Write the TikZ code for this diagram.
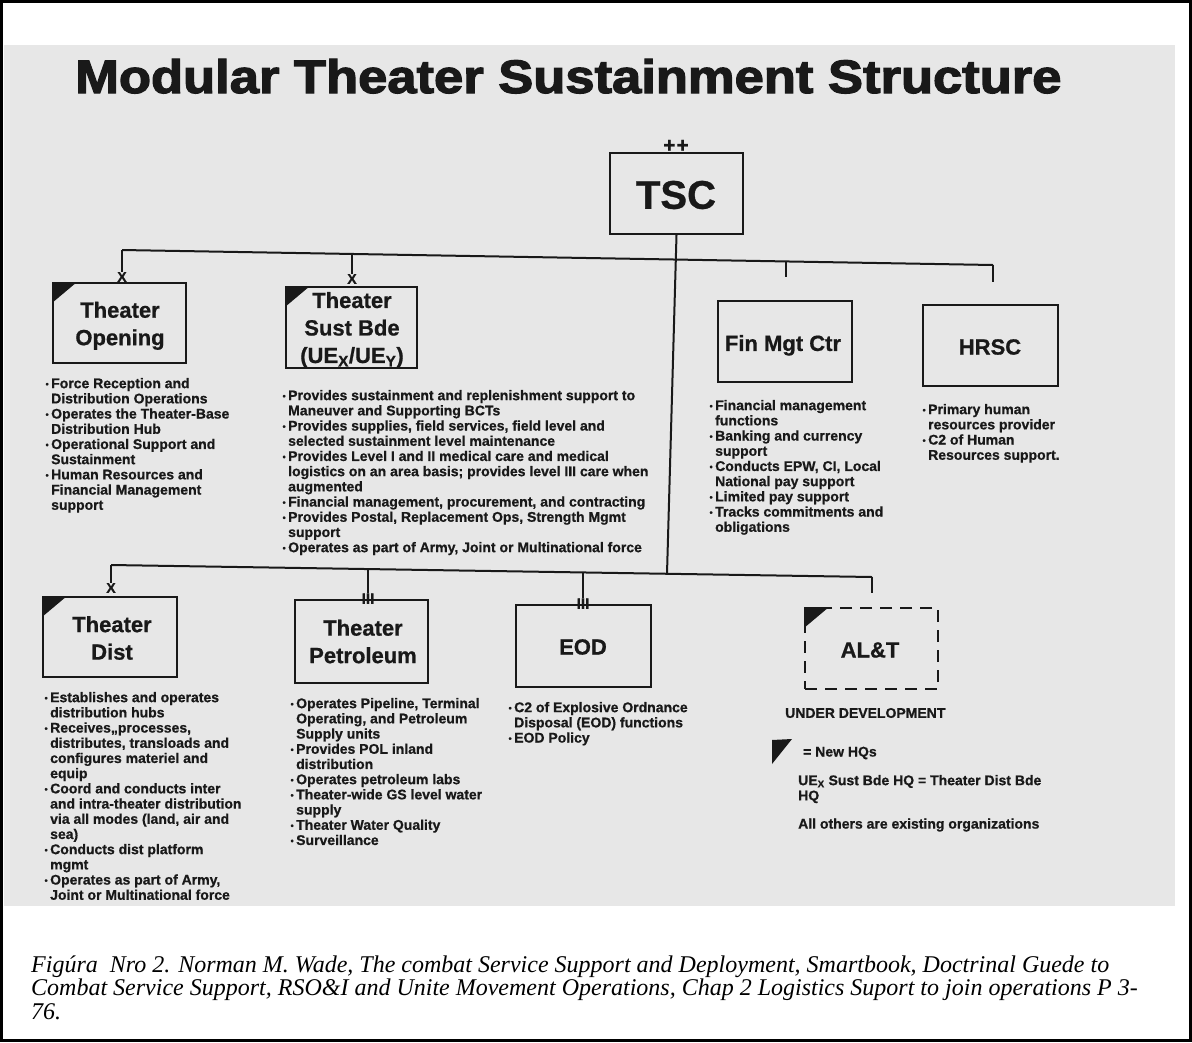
\documentclass[tikz,border=0pt]{standalone}
\usepackage{fontspec}
\setmainfont[BoldFeatures={FakeBold=0.8}]{Liberation Sans}
\newfontfamily\titlefont[BoldFeatures={FakeBold=2.5}]{Liberation Sans}
\newfontfamily\capfont{Liberation Serif}
\usetikzlibrary{calc}

\definecolor{scan}{RGB}{231,231,231}
\definecolor{ink}{RGB}{25,25,25}

% small bullet hanging left of the item text
\newcommand\bul{\llap{\raisebox{1pt}{\fontsize{9}{9}\selectfont •}\hspace{2.5pt}}}

\tikzset{
  unitbox/.style={draw=ink, line width=2pt, inner sep=0pt, minimum width=133pt, minimum height=81pt},
  boxlabel/.style={font=\fontsize{22}{27.5}\selectfont\bfseries, text=ink, align=center, inner sep=0pt},
  bullets/.style={font=\fontsize{14}{15.2}\selectfont\bfseries, text=ink, align=left, inner sep=0pt, anchor=north west},
  legendtext/.style={font=\fontsize{14}{15.2}\selectfont\bfseries, text=ink, align=left, inner sep=0pt},
  link/.style={draw=ink, line width=2pt},
  echelon/.style={font=\fontsize{14}{14}\selectfont\bfseries, text=ink, inner sep=0pt, anchor=south},
}

\begin{document}
\begin{tikzpicture}[x=1pt, y=-1pt]
\useasboundingbox (0,0) rectangle (1192,1042);
% page frame and scanned sheet
\fill[white] (0,0) rectangle (1192,1042);
\fill[scan] (4,45) rectangle (1175,906);
\draw[line width=2.5pt] (1.5,1.5) rectangle (1190.5,1040.5);

% title
\node[anchor=base west, inner sep=0pt, text=ink] (title) at (75,93)
  {\resizebox{986pt}{34pt}{\titlefont\bfseries Modular Theater Sustainment Structure}};

% ---------- boxes ----------
\node[unitbox] (tsc) at (676.5,193.5) {};
\node[boxlabel, font=\fontsize{40}{40}\selectfont\bfseries] (tsc-l) at (676,195) {TSC};
\node[font=\fontsize{21}{21}\selectfont\bfseries, text=ink, inner sep=0pt] (tsc-e) at (676,146) {+\kern1pt+};

\node[unitbox, minimum height=80pt] (topen) at (119.5,323) {};
\node[boxlabel] (topen-l) at (120,325.8) {Theater\\Opening};

\node[unitbox, minimum width=131pt] (sbde) at (351.5,327.5) {};
\node[boxlabel] (sbde-l) at (352,329.8) {Theater\\Sust Bde\\(UE\textsubscript{X}/UE\textsubscript{Y})};

\node[unitbox, minimum width=134pt] (fin) at (785,341.5) {};
\node[boxlabel] (fin-l) at (783,345.3) {Fin Mgt Ctr};

\node[unitbox, minimum width=135pt] (hrsc) at (990.5,345.5) {};
\node[boxlabel] (hrsc-l) at (990,347) {HRSC};

\node[unitbox, minimum width=134pt, minimum height=80pt] (tdist) at (110,637) {};
\node[boxlabel] (tdist-l) at (112,638) {Theater\\Dist};

\node[unitbox, minimum height=83pt] (tpet) at (361.5,641.5) {};
\node[boxlabel] (tpet-l) at (363,641.5) {Theater\\Petroleum};

\node[unitbox, minimum width=135pt, minimum height=82pt] (eod) at (583.5,646) {};
\node[boxlabel] (eod-l) at (583,647) {EOD};

\node[unitbox, dashed, dash pattern=on 12pt off 8pt, minimum height=81pt] (alt) at (871.5,648.5) {};
\node[boxlabel] (alt-l) at (870,650) {AL\&T};

% new-HQ corner flags
\foreach \b in {topen, sbde, tdist, alt}
  \fill[ink] (\b.north west) -- ++(25,0) -- ++(-25,21) -- cycle;

% echelon marks
\node[echelon] (topen-e) at ($(topen.north)+(2.5,0)$) {X};
\node[echelon] (sbde-e) at ($(sbde.north)+(0.5,-2)$) {X};
\node[echelon] (tdist-e) at ($(tdist.north)+(1,-3)$) {X};
\node[echelon, font=\fontsize{15}{15}\selectfont\bfseries] (tpet-e) at ($(tpet.north)+(6.5,5)$) {III};
\node[echelon, font=\fontsize{15}{15}\selectfont\bfseries] (eod-e) at ($(eod.north)+(-0.5,5)$) {III};

% ---------- connectors ----------
\coordinate (ub-a) at (122,250);
\coordinate (ub-b) at (352,254);
\coordinate (ub-c) at (676,259.5);
\coordinate (ub-d) at (786,261.4);
\coordinate (ub-e) at (993,265);
\coordinate (fin-t) at (786,277);
\coordinate (hrsc-t) at (993,282);

\coordinate (lb-a) at (111,565);
\coordinate (lb-b) at (368,569);
\coordinate (lb-c) at (583,572.4);
\coordinate (lb-d) at (667,573.8);
\coordinate (lb-e) at (872,577);
\coordinate (alt-t) at (872,593);

\draw[link] (ub-a) -- (ub-e);
\draw[link] (lb-a) -- (lb-e);
\draw[link] (tsc.south) -- (lb-d);
\draw[link] (ub-a) -- (topen-e.north);
\draw[link] (ub-b) -- (sbde-e.north);
\draw[link] (ub-d) -- (fin-t);
\draw[link] (ub-e) -- (hrsc-t);
\draw[link] (lb-a) -- (tdist-e.north);
\draw[link] (lb-b) -- (tpet-e.north);
\draw[link] (lb-c) -- (eod-e.north);
\draw[link] (lb-e) -- (alt-t);

% ---------- mission lists ----------
\node[bullets] (topen-t) at (51,377.8) {%
\bul Force Reception and\\
Distribution Operations\\
\bul Operates the Theater-Base\\
Distribution Hub\\
\bul Operational Support and\\
Sustainment\\
\bul Human Resources and\\
Financial Management\\
support};

\node[bullets] (sbde-t) at (288,389.8) {%
\bul Provides sustainment and replenishment support to\\
Maneuver and Supporting BCTs\\
\bul Provides supplies, field services, field level and\\
selected sustainment level maintenance\\
\bul Provides Level I and II medical care and medical\\
logistics on an area basis; provides level III care when\\
augmented\\
\bul Financial management, procurement, and contracting\\
\bul Provides Postal, Replacement Ops, Strength Mgmt\\
support\\
\bul Operates as part of Army, Joint or Multinational force};

\node[bullets] (fin-t) at (715,399.8) {%
\bul Financial management\\
functions\\
\bul Banking and currency\\
support\\
\bul Conducts EPW, CI, Local\\
National pay support\\
\bul Limited pay support\\
\bul Tracks commitments and\\
obligations};

\node[bullets] (hrsc-t) at (928,403.8) {%
\bul Primary human\\
resources provider\\
\bul C2 of Human\\
Resources support.};

\node[bullets] (tdist-t) at (50,691.8) {%
\bul Establishes and operates\\
distribution hubs\\
\bul Receives,,processes,\\
distributes, transloads and\\
configures materiel and\\
equip\\
\bul Coord and conducts inter\\
and intra-theater distribution\\
via all modes (land, air and\\
sea)\\
\bul Conducts dist platform\\
mgmt\\
\bul Operates as part of Army,\\
Joint or Multinational force};

\node[bullets] (tpet-t) at (296,697.8) {%
\bul Operates Pipeline, Terminal\\
Operating, and Petroleum\\
Supply units\\
\bul Provides POL inland\\
distribution\\
\bul Operates petroleum labs\\
\bul Theater-wide GS level water\\
supply\\
\bul Theater Water Quality\\
\bul Surveillance};

\node[bullets] (eod-t) at (514,701.8) {%
\bul C2 of Explosive Ordnance\\
Disposal (EOD) functions\\
\bul EOD Policy};

% ---------- legend ----------
\node[legendtext, anchor=west] (undev) at (785,713) {UNDER DEVELOPMENT};
\fill[ink] (772,740) -- (792,739) -- (772,764) -- cycle;
\node[legendtext, anchor=west] (newhq) at (803,753) {= New HQs};
\node[legendtext, anchor=north west] (uex) at (798,774.8) {UE\textsubscript{X} Sust Bde HQ = Theater Dist Bde\\HQ};
\node[legendtext, anchor=west] (others) at (798,825) {All others are existing organizations};

% ---------- caption ----------
\node[anchor=base west, inner sep=0pt] (caption) at (31,972) {%
\parbox[t]{1150pt}{\raggedright\capfont\itshape\fontsize{24}{23.5}\selectfont
Figúra~~Nro 2. Norman M. Wade, The combat Service Support and Deployment, Smartbook, Doctrinal Guede to\\
Combat Service Support, RSO\&I and Unite Movement Operations, Chap 2 Logistics Suport to join operations P 3-\\
76.}};
\end{tikzpicture}
\end{document}
